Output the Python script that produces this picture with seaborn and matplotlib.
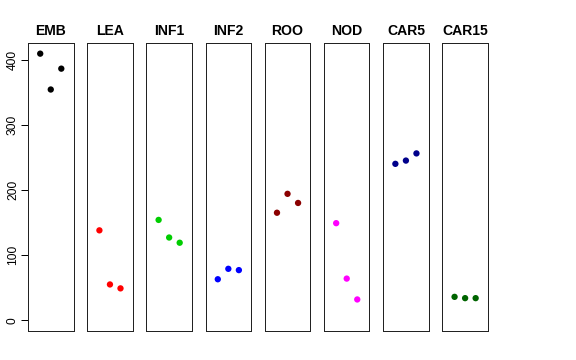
import pandas as pd
import matplotlib
matplotlib.use("Agg")
import matplotlib.pyplot as plt
import seaborn as sns

# ── Data ───────────────────────────────────────────────────
tissues = ["EMB", "LEA", "INF1", "INF2", "ROO", "NOD", "CAR5", "CAR15"]
colors = ["black", "red", "#00CD00", "blue", "#8B0000", "magenta", "#00008B", "#006400"]
replicates = [1, 2, 3]
values = {
    "EMB":   [409, 354, 386],
    "LEA":   [138, 55, 49],
    "INF1":  [154, 127, 119],
    "INF2":  [63, 79, 77],
    "ROO":   [165, 194, 180],
    "NOD":   [149, 64, 32],
    "CAR5":  [240, 245, 256],
    "CAR15": [36, 34, 34],
}

rows = []
for t in tissues:
    for r, v in zip(replicates, values[t]):
        rows.append({"tissue": t, "rep": r, "value": v})
df = pd.DataFrame(rows)

# ── Plot ───────────────────────────────────────────────────
sns.set_style("white")
plt.rcParams["font.family"] = ["Liberation Sans", "DejaVu Sans"]
plt.rcParams["text.color"] = "black"
plt.rcParams["ytick.color"] = "black"
plt.rcParams["ytick.labelcolor"] = "black"

fig, axes = plt.subplots(1, len(tissues), figsize=(8, 5), dpi=72, sharey=True)
fig.subplots_adjust(left=0.0486, right=0.847, top=0.8806, bottom=0.0806, wspace=0.3)

ymax = df["value"].max()
for ax, t, c in zip(axes, tissues, colors):
    sub = df[df["tissue"] == t]
    sns.scatterplot(data=sub, x="rep", y="value", color=c, s=40,
                    edgecolor="none", ax=ax, legend=False)
    ax.set_title(t, fontsize=14, fontweight="bold", pad=8, color="black")
    ax.set_xlim(-0.16, 4.16)
    ax.set_ylim(-0.04 * ymax, 1.04 * ymax)
    ax.set_xticks([])
    ax.set_xlabel("")
    ax.set_ylabel("")
    for sp in ax.spines.values():
        sp.set_visible(True)
        sp.set_color("#222222")
        sp.set_linewidth(1)
    ax.tick_params(axis="y", left=False, labelleft=False)

axes[0].set_yticks([0, 100, 200, 300, 400])
axes[0].tick_params(axis="y", left=True, labelleft=True, length=7, width=1,
                    labelsize=12, labelrotation=90, pad=2, colors="black")
for lbl in axes[0].get_yticklabels():
    lbl.set_va("center")

fig.savefig("out.png", dpi=72)
plt.close(fig)
